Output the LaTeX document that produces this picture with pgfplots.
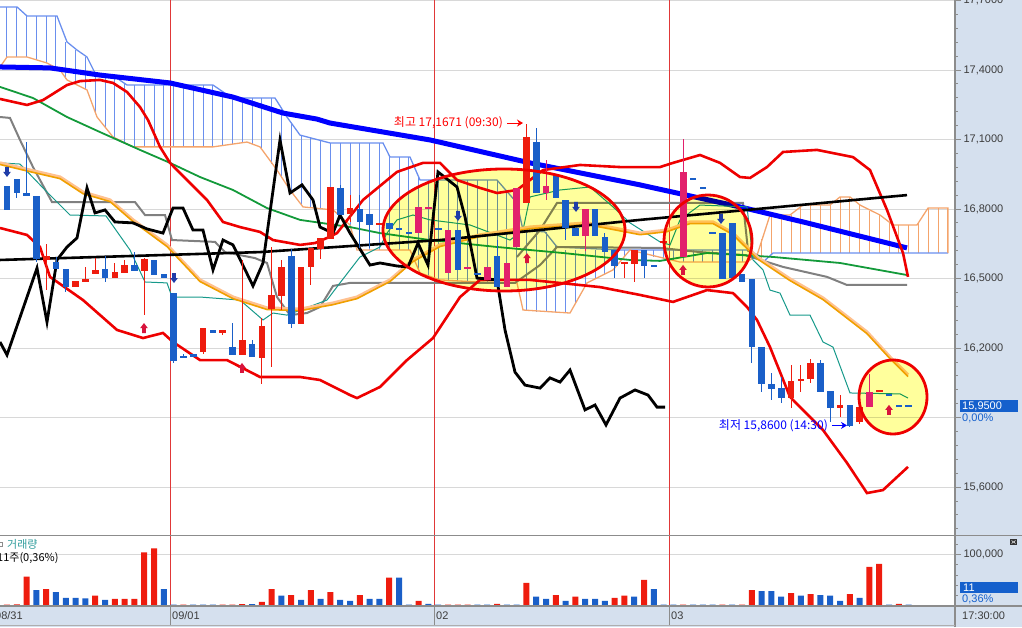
\documentclass[border=0pt]{standalone}
\usepackage{fontspec}
\setmainfont{Liberation Sans}
\newfontfamily\kr{Noto Sans CJK KR}
\usepackage{pgfplots}
\pgfplotsset{compat=1.18}
\usepackage{pgfplotstable}
\usetikzlibrary{arrows.meta}

\definecolor{panel}{HTML}{D5E0EE}
\definecolor{vred}{HTML}{E03838}
\definecolor{gridgray}{HTML}{D8D8D8}
\definecolor{tickgray}{HTML}{8C8C8C}
\definecolor{labgray}{HTML}{3C3C3C}
\definecolor{cred}{HTML}{EE1C0E}
\definecolor{cblue}{HTML}{1A5FC8}
\definecolor{cpink}{HTML}{E2206C}
\definecolor{mablue}{HTML}{0000FF}
\definecolor{bbred}{HTML}{EE0000}
\definecolor{magreen}{HTML}{139A3A}
\definecolor{magray}{HTML}{808080}
\definecolor{maorange}{HTML}{F0A000}
\definecolor{mapeach}{HTML}{FFC190}
\definecolor{mateal}{HTML}{16998A}
\definecolor{cloudA}{HTML}{6A8FEE}
\definecolor{cloudB}{HTML}{F4A46C}
\definecolor{arrred}{HTML}{D8143C}
\definecolor{arrnavy}{HTML}{1E3CA8}
\definecolor{hilite}{HTML}{FFFF9C}
\definecolor{voltxt}{HTML}{2E9C9C}
\definecolor{boxblue}{HTML}{1560CC}

\pgfdeclareplotmark{uarr}{%
 \pgfpathmoveto{\pgfpoint{-1.8pt}{-5pt}}%
 \pgfpathlineto{\pgfpoint{1.8pt}{-5pt}}%
 \pgfpathlineto{\pgfpoint{1.8pt}{0pt}}%
 \pgfpathlineto{\pgfpoint{3.8pt}{0pt}}%
 \pgfpathlineto{\pgfpoint{0pt}{5pt}}%
 \pgfpathlineto{\pgfpoint{-3.8pt}{0pt}}%
 \pgfpathlineto{\pgfpoint{-1.8pt}{0pt}}%
 \pgfpathclose\pgfusepathqfill}
\pgfdeclareplotmark{darr}{%
 \pgfpathmoveto{\pgfpoint{-1.8pt}{5pt}}%
 \pgfpathlineto{\pgfpoint{1.8pt}{5pt}}%
 \pgfpathlineto{\pgfpoint{1.8pt}{0pt}}%
 \pgfpathlineto{\pgfpoint{3.8pt}{0pt}}%
 \pgfpathlineto{\pgfpoint{0pt}{-5pt}}%
 \pgfpathlineto{\pgfpoint{-3.8pt}{0pt}}%
 \pgfpathlineto{\pgfpoint{-1.8pt}{0pt}}%
 \pgfpathclose\pgfusepathqfill}
\pgfdeclareplotmark{nothing}{}

\pgfplotsset{vbar/.style={only marks, mark=nothing,
  error bars/.cd, y dir=both, y explicit, error mark=none}}

% ---------------- candles (bar index i, open high low close)
\pgfplotstableread{
i o h l c
4 16.580 16.649 16.450 16.597
7 16.463 16.489 16.463 16.489
8 16.485 16.550 16.485 16.498
9 16.519 16.588 16.519 16.537
11 16.502 16.567 16.502 16.528
12 16.524 16.580 16.524 16.558
14 16.532 16.588 16.342 16.584
20 16.183 16.286 16.174 16.286
22 16.265 16.278 16.256 16.278
24 16.170 16.580 16.170 16.235
26 16.157 16.330 16.045 16.295
27 16.368 16.636 16.118 16.429
28 16.424 16.580 16.364 16.550
30 16.304 16.550 16.304 16.550
31 16.550 16.632 16.472 16.632
32 16.627 16.675 16.584 16.675
33 16.671 16.895 16.671 16.895
35 16.778 16.860 16.744 16.804
38 16.731 16.740 16.731 16.740
53 16.826 17.167 16.826 17.111
63 16.567 16.567 16.502 16.567
64 16.563 16.623 16.485 16.623
67 16.658 16.658 16.658 16.658
80 15.984 16.127 15.941 16.058
81 16.058 16.127 16.010 16.066
82 16.066 16.153 16.049 16.135
85 15.941 15.997 15.902 15.954
87 15.881 15.945 15.872 15.945
89 16.014 16.014 16.014 16.014
}\redc
\pgfplotstableread{
i o h l c
42 16.696 16.809 16.696 16.809
43 16.804 16.804 16.804 16.804
45 16.524 16.709 16.524 16.709
47 16.545 16.545 16.545 16.545
49 16.494 16.550 16.494 16.550
51 16.463 16.567 16.463 16.567
52 16.636 16.891 16.636 16.891
55 16.869 17.011 16.839 16.899
59 16.684 16.800 16.620 16.800
69 16.593 17.102 16.593 16.960
88 15.945 16.088 15.945 16.010
}\pinkc
\pgfplotstableread{
i o h l c
0 16.899 16.899 16.796 16.796
1 16.929 16.929 16.847 16.869
2 16.869 17.089 16.856 16.856
3 16.856 16.856 16.571 16.584
5 16.571 16.593 16.541 16.541
6 16.541 16.541 16.442 16.463
10 16.541 16.597 16.485 16.502
13 16.558 16.614 16.532 16.532
15 16.580 16.580 16.515 16.515
16 16.519 16.519 16.502 16.502
17 16.437 16.437 16.135 16.144
18 16.166 16.174 16.157 16.157
19 16.174 16.174 16.161 16.161
21 16.278 16.278 16.265 16.265
23 16.204 16.308 16.170 16.170
25 16.217 16.235 16.161 16.161
29 16.597 16.627 16.286 16.304
34 16.891 16.904 16.774 16.774
36 16.800 16.860 16.632 16.744
37 16.778 16.778 16.632 16.731
39 16.740 16.740 16.714 16.714
40 16.714 16.714 16.714 16.714
41 16.696 16.696 16.696 16.696
44 16.714 16.714 16.714 16.714
46 16.709 16.709 16.537 16.537
48 16.520 16.520 16.520 16.520
50 16.597 16.666 16.463 16.463
54 17.089 17.150 16.869 16.869
56 16.951 16.951 16.847 16.847
57 16.839 16.839 16.666 16.718
58 16.718 16.718 16.684 16.684
60 16.800 16.800 16.684 16.684
61 16.679 16.696 16.614 16.614
62 16.623 16.623 16.502 16.554
65 16.623 16.623 16.502 16.554
66 16.554 16.554 16.554 16.554
70 16.929 16.929 16.929 16.929
71 16.891 16.891 16.891 16.891
72 16.696 16.696 16.696 16.696
73 16.696 16.696 16.498 16.498
74 16.740 16.740 16.502 16.502
75 16.519 16.519 16.485 16.485
76 16.498 16.498 16.135 16.204
77 16.204 16.204 16.010 16.045
78 16.045 16.092 15.976 16.023
79 16.027 16.075 15.963 15.984
83 16.135 16.148 16.010 16.010
84 16.014 16.014 15.881 15.941
86 15.954 15.954 15.860 15.865
90 15.997 15.997 15.997 15.997
91 15.950 15.950 15.950 15.950
92 15.950 15.950 15.950 15.950
}\bluec

% ---------------- Ichimoku cloud per bar (span A = a, span B = b)
\pgfplotstableread{
i a b
0 17.672 17.456
1 17.672 17.456
2 17.633 17.456
3 17.633 17.444
4 17.633 17.431
5 17.633 17.408
6 17.521 17.360
7 17.486 17.339
8 17.456 17.318
9 17.387 17.220
10 17.380 17.154
11 17.370 17.107
12 17.340 17.086
13 17.335 17.068
14 17.335 17.068
15 17.335 17.068
16 17.335 17.068
17 17.335 17.068
18 17.335 17.068
19 17.335 17.068
20 17.335 17.068
21 17.335 17.068
22 17.300 17.074
23 17.279 17.080
24 17.279 17.087
25 17.279 17.081
26 17.279 17.057
27 17.279 16.995
28 17.235 16.940
29 17.170 16.876
30 17.119 16.820
31 17.105 16.806
32 17.095 16.800
33 17.085 16.797
34 17.085 16.766
35 17.085 16.731
36 17.085 16.623
37 17.085 16.623
38 17.085 16.623
39 17.030 16.623
40 17.024 16.623
41 17.024 16.623
42 16.940 16.540
43 16.925 16.512
44 16.925 16.496
45 16.925 16.492
46 16.925 16.490
47 16.925 16.487
48 16.925 16.485
49 16.925 16.483
50 16.925 16.483
51 16.875 16.483
52 16.826 16.481
53 16.709 16.363
54 16.704 16.355
55 16.700 16.355
56 16.640 16.355
57 16.623 16.355
58 16.623 16.390
59 16.623 16.470
60 16.623 16.498
61 16.623 16.519
62 16.623 16.545
63 16.623 16.595
64 16.623 16.619
65 16.623 16.608
66 16.623 16.595
67 16.623 16.585
68 16.623 16.577
69 16.623 16.571
70 16.623 16.571
71 16.623 16.571
72 16.623 16.571
73 16.623 16.571
74 16.623 16.571
75 16.623 16.571
76 16.615 16.585
}\cloudblue
\pgfplotstableread{
i a b
77 16.575 16.670
78 16.605 16.774
79 16.610 16.774
80 16.610 16.776
81 16.610 16.806
82 16.610 16.817
83 16.610 16.817
84 16.610 16.817
85 16.610 16.852
86 16.610 16.852
87 16.610 16.818
88 16.610 16.790
89 16.610 16.776
90 16.610 16.744
91 16.610 16.731
92 16.610 16.731
93 16.610 16.740
94 16.610 16.804
95 16.610 16.804
96 16.610 16.804
}\cloudorange

% ---------------- volume
\pgfplotstableread{
i v
0 2500
1 3000
2 57000
4 33000
9 20000
11 14000
12 14000
13 14000
14 104000
15 112000
18 2500
22 2500
23 2500
24 3500
26 8000
27 33000
29 21000
31 31000
33 27000
36 21000
39 55000
42 10000
45 2500
46 2500
47 2500
50 4000
53 45000
56 21000
58 18000
62 16000
63 20000
65 51000
69 2500
73 2500
75 2500
76 31000
80 25000
82 23000
86 23000
88 76000
89 82000
91 4000
}\volred
\pgfplotstableread{
i v
3 31000
5 27000
6 16000
7 16000
8 15000
10 12000
16 33000
17 2500
19 2500
20 2500
21 2500
25 3500
28 20000
30 12000
32 14000
34 12000
35 10000
37 14000
38 14000
40 55000
41 2500
43 4000
44 2500
48 2500
49 2500
51 2500
52 2500
54 18000
55 14000
57 10000
59 14000
60 14000
61 10000
64 18000
66 33000
67 2500
68 2500
70 2500
71 2500
72 2500
74 2500
77 29000
78 29000
79 18000
81 20000
83 21000
84 20000
85 10000
87 16000
90 2500
92 2500
}\volblue

\pgfplotstableread{
x y
0 16.999
30 16.968
60 16.938
83 16.873
110 16.839
133 16.753
167 16.645
200 16.494
233 16.420
267 16.373
300 16.368
333 16.394
357 16.420
390 16.494
413 16.580
440 16.645
480 16.688
530 16.722
587 16.740
640 16.696
667 16.709
690 16.744
713 16.744
733 16.696
757 16.593
790 16.498
823 16.416
867 16.269
890 16.161
908 16.084
}\orangema

\pgfplotsset{priceaxis/.style={
  at={(0pt,92pt)}, anchor=south west,
  width=955pt, height=535pt, scale only axis,
  xmin=0, xmax=955, ymin=15.393, ymax=17.702}}

\begin{document}
\begin{tikzpicture}
\fill[panel] (955pt,0pt) rectangle (1022pt,627pt);
\fill[panel] (0pt,0pt) rectangle (1022pt,21pt);

\begin{axis}[priceaxis,
  axis line style={draw=none},
  xtick=\empty,
  ytick={15.6,16.2,16.5,16.8,17.1,17.4,17.7},
  extra y ticks={15.9}, extra y tick labels={},
  extra y tick style={grid=major},
  minor ytick={15.42,15.48,15.54,15.66,15.72,15.78,15.84,15.96,16.02,16.08,16.14,16.26,16.32,16.38,16.44,16.56,16.62,16.68,16.74,16.86,16.92,16.98,17.04,17.16,17.22,17.28,17.34,17.46,17.52,17.58,17.64},
  ytick pos=right, yticklabel pos=right,
  tick align=outside,
  major tick length=6pt, minor tick length=2.5pt,
  tick style={draw=tickgray, line width=0.8pt},
  ymajorgrids, major grid style={draw=gridgray, line width=0.8pt},
  yticklabel style={font=\fontsize{11}{12}\selectfont, text=labgray, xshift=-1pt,
    /pgf/number format/.cd, fixed, fixed zerofill, precision=4, use comma, assume math mode=true},
]
% day separators
\draw[vred, line width=0.9pt] (axis cs:170,15.393) -- (axis cs:170,17.702);
\draw[vred, line width=0.9pt] (axis cs:434,15.393) -- (axis cs:434,17.702);
\draw[vred, line width=0.9pt] (axis cs:669,15.393) -- (axis cs:669,17.702);

% Ichimoku cloud hatching
\addplot[cloudA, vbar, error bar style={line width=1pt}]
  table[x expr=7+9.8*\thisrow{i}, y expr=(\thisrow{a}+\thisrow{b})/2, y error expr=abs(\thisrow{a}-\thisrow{b})/2] {\cloudblue};
\addplot[cloudB, vbar, error bar style={line width=1pt}]
  table[x expr=7+9.8*\thisrow{i}, y expr=(\thisrow{a}+\thisrow{b})/2, y error expr=abs(\thisrow{a}-\thisrow{b})/2] {\cloudorange};
% cloud edges
\addplot[cloudA, line width=1.3pt, mark=none] table {
0 17.672
17 17.672
27 17.633
57 17.633
67 17.521
77 17.486
87 17.456
95 17.387
115 17.370
127 17.335
213 17.335
232 17.279
275 17.279
287 17.197
300 17.119
330 17.085
383 17.085
390 17.024
410 17.024
420 16.925
497 16.925
517 16.826
523 16.709
545 16.701
557 16.636
620 16.623
750 16.623
763 16.571
773 16.610
948 16.610
};
\addplot[cloudB, line width=1.3pt, mark=none] table {
0 17.413
7 17.456
27 17.456
47 17.430
60 17.400
67 17.357
87 17.314
97 17.197
113 17.111
133 17.068
213 17.068
247 17.089
260 17.068
277 16.968
290 16.882
303 16.809
333 16.796
350 16.731
357 16.623
410 16.623
420 16.524
440 16.494
477 16.485
517 16.481
523 16.364
570 16.351
587 16.481
613 16.537
630 16.623
680 16.571
747 16.571
757 16.600
770 16.774
790 16.774
803 16.817
830 16.817
840 16.852
850 16.852
860 16.817
880 16.774
893 16.731
917 16.731
928 16.804
948 16.804
948 16.610
};

% gray lines
\addplot[magray, line width=2pt, mark=none] table {
0 17.197
10 17.193
20 17.098
33 16.981
52 16.830
135 16.830
145 16.774
165 16.774
172 16.666
215 16.658
225 16.614
255 16.588
267 16.567
277 16.420
290 16.342
307 16.351
320 16.377
333 16.468
350 16.481
515 16.481
540 16.558
557 16.636
660 16.632
700 16.614
745 16.601
783 16.550
827 16.507
847 16.472
907 16.472
};
\addplot[magray, line width=2pt, mark=none] table {
517 16.593
540 16.709
557 16.826
743 16.826
748 16.620
760 16.595
};
% green MA
\addplot[magreen, line width=1.8pt, mark=none] table {
0 17.327
33 17.279
67 17.197
100 17.132
140 17.055
170 16.999
200 16.938
233 16.882
267 16.804
300 16.753
350 16.722
380 16.696
430 16.666
497 16.636
563 16.610
630 16.580
660 16.576
707 16.610
773 16.593
840 16.567
907 16.515
};
% long blue MA
\addplot[mablue, line width=5pt, mark=none] table {
0 17.413
50 17.409
100 17.378
170 17.344
233 17.283
283 17.214
317 17.188
330 17.171
430 17.098
530 16.999
640 16.904
740 16.809
807 16.740
907 16.632
};
% Bollinger upper
\addplot[bbred, line width=2.6pt, mark=none] table {
0 17.275
27 17.249
43 17.270
67 17.335
80 17.352
100 17.357
113 17.344
127 17.305
140 17.240
148 17.184
160 17.068
170 16.999
187 16.925
207 16.839
223 16.744
240 16.722
260 16.701
273 16.666
300 16.645
315 16.653
327 16.675
337 16.696
363 16.839
397 16.960
423 16.999
440 16.999
457 16.925
480 16.891
497 16.869
517 16.882
530 16.925
543 16.968
580 16.990
620 16.981
660 16.981
673 16.999
700 17.033
720 16.999
740 16.938
750 16.934
767 16.981
783 17.046
817 17.055
853 17.024
870 16.968
887 16.796
903 16.610
908 16.507
};
% Bollinger lower
\addplot[bbred, line width=2.6pt, mark=none] table {
0 16.718
27 16.688
40 16.636
50 16.507
83 16.407
117 16.278
143 16.243
163 16.265
173 16.226
200 16.148
227 16.148
260 16.075
300 16.075
320 16.062
350 15.997
357 15.984
380 16.032
407 16.148
433 16.243
460 16.420
480 16.494
530 16.494
600 16.463
640 16.429
673 16.399
707 16.450
733 16.437
747 16.377
757 16.321
770 16.204
790 15.989
823 15.846
847 15.704
867 15.574
883 15.587
908 15.687
};
% teal
\addplot[mateal, line width=1pt, mark=none] table {
0 16.999
20 16.994
45 16.882
70 16.774
106 16.770
130 16.623
145 16.485
167 16.481
172 16.420
200 16.420
240 16.407
255 16.351
263 16.321
273 16.351
287 16.342
327 16.407
340 16.481
360 16.593
380 16.636
387 16.696
397 16.753
413 16.774
430 16.753
470 16.731
510 16.666
523 16.709
530 16.852
560 16.882
590 16.895
613 16.809
630 16.740
660 16.658
670 16.645
680 16.753
700 16.817
747 16.809
753 16.580
763 16.537
770 16.450
780 16.437
790 16.342
810 16.342
823 16.226
833 16.204
850 16.006
900 16.002
908 15.984
};
% orange MA (double line)
\addplot[mapeach, line width=3.2pt, mark=none] table {\orangema};
\addplot[maorange, line width=1.6pt, mark=none, yshift=-1.6pt] table {\orangema};
% black trend line
\addplot[black, line width=2.6pt, mark=none] table {
0 16.580
260 16.614
440 16.666
640 16.753
907 16.860
};
% black lagging line
\addplot[black, line width=2.8pt, mark=none] table {
0 16.226
7 16.170
37 16.545
47 16.312
57 16.580
67 16.636
77 16.675
87 16.891
95 16.783
105 16.796
115 16.744
133 16.740
147 16.714
163 16.696
173 16.804
183 16.804
193 16.709
203 16.709
213 16.537
223 16.666
233 16.645
253 16.468
263 16.567
280 17.098
290 16.869
302 16.904
313 16.839
320 16.722
333 16.696
340 16.774
350 16.696
370 16.558
380 16.567
397 16.554
408 16.550
418 16.653
428 16.558
438 16.960
457 16.895
465 16.766
477 16.502
497 16.494
505 16.278
515 16.096
525 16.040
540 16.027
550 16.071
560 16.053
570 16.105
585 15.933
595 15.954
606 15.868
620 15.984
635 16.019
648 15.997
657 15.945
665 15.945
};
\end{axis}

% highlight fills (picture coordinates, 1pt = 1px)
\begin{scope}[blend mode=multiply]
\fill[hilite] (504pt,397pt) ellipse [x radius=121pt, y radius=61pt];
\fill[hilite] (708pt,386pt) ellipse [x radius=44pt, y radius=46pt];
\fill[hilite] (893pt,230pt) ellipse [x radius=34pt, y radius=37pt];
\end{scope}

\begin{axis}[priceaxis, hide axis]
% candles: wicks
\addplot[cred, vbar, error bar style={line width=1pt}]
  table[x expr=7+9.8*\thisrow{i}, y expr=(\thisrow{h}+\thisrow{l})/2, y error expr=(\thisrow{h}-\thisrow{l})/2] {\redc};
\addplot[cpink, vbar, error bar style={line width=1pt}]
  table[x expr=7+9.8*\thisrow{i}, y expr=(\thisrow{h}+\thisrow{l})/2, y error expr=(\thisrow{h}-\thisrow{l})/2] {\pinkc};
\addplot[cblue, vbar, error bar style={line width=1pt}]
  table[x expr=7+9.8*\thisrow{i}, y expr=(\thisrow{h}+\thisrow{l})/2, y error expr=(\thisrow{h}-\thisrow{l})/2] {\bluec};
% candles: bodies
\addplot[cred, vbar, error bar style={line width=6.6pt}]
  table[x expr=7+9.8*\thisrow{i}, y expr=(\thisrow{o}+\thisrow{c})/2, y error expr={max(abs(\thisrow{o}-\thisrow{c})/2,0.0045)}] {\redc};
\addplot[cpink, vbar, error bar style={line width=6.6pt}]
  table[x expr=7+9.8*\thisrow{i}, y expr=(\thisrow{o}+\thisrow{c})/2, y error expr={max(abs(\thisrow{o}-\thisrow{c})/2,0.0045)}] {\pinkc};
\addplot[cblue, vbar, error bar style={line width=6.6pt}]
  table[x expr=7+9.8*\thisrow{i}, y expr=(\thisrow{o}+\thisrow{c})/2, y error expr={max(abs(\thisrow{o}-\thisrow{c})/2,0.0045)}] {\bluec};

% signal arrows
\addplot[arrred, only marks, mark=uarr] table {
144 16.286
242 16.114
527 16.588
683 16.537
889 15.933
};
\addplot[arrnavy, only marks, mark=darr] table {
7 16.960
174 16.502
458 16.770
576 16.809
721 16.757
};

% high / low annotations
\node[anchor=east, text=red, font=\kr\fontsize{12}{13}\selectfont, inner sep=0pt] at (axis cs:503,17.171) {최고 17,1671 (09:30)};
\draw[red, line width=0.9pt, -{Stealth[length=6pt,width=7pt]}] (axis cs:507,17.171) -- (axis cs:523,17.171);
\node[anchor=east, text=blue, font=\kr\fontsize{12}{13}\selectfont, inner sep=0pt] at (axis cs:828,15.866) {최저 15,8600 (14:30)};
\draw[blue, line width=0.9pt, -{Stealth[length=6pt,width=7pt]}] (axis cs:832,15.866) -- (axis cs:847,15.866);
\end{axis}

% highlight outlines
\draw[bbred, line width=2.8pt] (504pt,397pt) ellipse [x radius=121pt, y radius=61pt];
\draw[bbred, line width=2.8pt] (708pt,386pt) ellipse [x radius=44pt, y radius=46pt];
\draw[bbred, line width=2.8pt] (893pt,230pt) ellipse [x radius=34pt, y radius=37pt];

% ---------------- volume panel
\begin{axis}[
  at={(0pt,21pt)}, anchor=south west,
  width=955pt, height=70pt, scale only axis,
  xmin=0, xmax=955, ymin=0, ymax=136000,
  axis line style={draw=none},
  xtick=\empty,
  ytick={100000},
  minor ytick={0,20000,40000,60000,80000,120000},
  ytick pos=right, yticklabel pos=right,
  tick align=outside,
  major tick length=6pt, minor tick length=2.5pt,
  tick style={draw=tickgray, line width=0.8pt},
  ymajorgrids, major grid style={draw=gridgray, line width=0.8pt},
  yticklabel style={font=\fontsize{11}{12}\selectfont, text=labgray, xshift=-1pt,
    /pgf/number format/.cd, fixed, precision=0, 1000 sep={,}, assume math mode=true},
  scaled y ticks=false,
]
\draw[vred, line width=0.9pt] (axis cs:170,0) -- (axis cs:170,136000);
\draw[vred, line width=0.9pt] (axis cs:434,0) -- (axis cs:434,136000);
\draw[vred, line width=0.9pt] (axis cs:669,0) -- (axis cs:669,136000);
\addplot[ybar, bar width=6pt, bar shift=0pt, fill=cred, draw=none]
  table[x expr=7+9.8*\thisrow{i}, y=v] {\volred};
\addplot[ybar, bar width=6pt, bar shift=0pt, fill=cblue, draw=none]
  table[x expr=7+9.8*\thisrow{i}, y=v] {\volblue};
\end{axis}

% ---------------- frame lines
\draw[tickgray, line width=1.2pt] (955pt,0pt) -- (955pt,627pt);
\draw[tickgray, line width=1.2pt] (0pt,91.5pt) -- (1022pt,91.5pt);
\draw[tickgray, line width=1.2pt] (0pt,21pt) -- (1022pt,21pt);
\draw[tickgray!70, line width=0.8pt] (0pt,2pt) -- (955pt,2pt);
\foreach \xx in {170,434,669} \draw[tickgray, line width=0.9pt] (\xx pt,2pt) -- (\xx pt,21pt);

% date labels
\begin{scope}[every node/.style={anchor=west, inner sep=0pt, font=\fontsize{11}{12}\selectfont, text=labgray}]
\node at (-5pt,11pt) {08/31};
\node at (172pt,11pt) {09/01};
\node at (436pt,11pt) {02};
\node at (671pt,11pt) {03};
\node at (962pt,11pt) {17:30:00};
\end{scope}

% volume legend
\draw[tickgray, line width=0.8pt] (-1pt,81pt) rectangle (2.5pt,85pt);
\node[anchor=west, inner sep=0pt, text=voltxt, font=\kr\fontsize{11}{12}\selectfont] at (7pt,83pt) {거래량};
\node[anchor=west, inner sep=0pt, text=black, font=\kr\fontsize{11}{12}\selectfont] at (-3pt,69pt) {11주(0,36\%)};

% current value boxes
\fill[boxblue] (960pt,215pt) rectangle (1018pt,227pt);
\node[anchor=west, inner sep=0pt, text=white, font=\fontsize{11}{12}\selectfont] at (962pt,221pt) {15,9500};
\node[anchor=west, inner sep=0pt, text=boxblue, font=\fontsize{11}{12}\selectfont] at (962pt,209pt) {0,00\%};
\fill[boxblue] (960pt,34pt) rectangle (1018pt,45pt);
\node[anchor=west, inner sep=0pt, text=white, font=\fontsize{11}{12}\selectfont] at (963pt,39.5pt) {11};
\node[anchor=west, inner sep=0pt, text=boxblue, font=\fontsize{11}{12}\selectfont] at (962pt,28pt) {0,36\%};
\fill[gray!40!black] (1010pt,82pt) rectangle (1017pt,88pt);
\draw[white, line width=0.5pt] (1011.5pt,83.5pt) -- (1015.5pt,86.5pt) (1011.5pt,86.5pt) -- (1015.5pt,83.5pt);

\pgfresetboundingbox
\useasboundingbox (0pt,0pt) rectangle (1022pt,627pt);
\end{tikzpicture}
\end{document}
